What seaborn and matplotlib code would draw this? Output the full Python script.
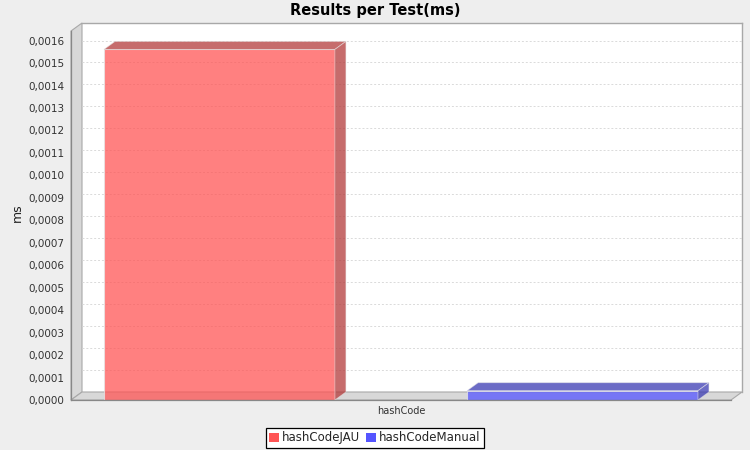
import numpy as np
import pandas as pd
import matplotlib
matplotlib.use("Agg")
import matplotlib.pyplot as plt
import seaborn as sns
from matplotlib.patches import Polygon, Patch
from matplotlib.ticker import FuncFormatter

# ---- data ----
categories = ["hashCode"]
series = ["hashCodeJAU", "hashCodeManual"]
values_ms = [0.001561, 0.0000414]
y_ticks = [round(i * 0.0001, 4) for i in range(17)]
colors = ["#FF5555", "#5555FF"]

df = pd.DataFrame({"test": categories * len(series), "series": series, "ms": values_ms})

sns.set_style("white")
plt.rcParams["font.family"] = ["DejaVu Sans"]

W, H = 750, 450
DX, DY = 11, 8
fig = plt.figure(figsize=(W / 100, H / 100), dpi=100, facecolor="#EEEEEE")


def fr(l, b, w, h):
    return [l / W, b / H, w / W, h / H]


# back wall axes (grid lines)
back = fig.add_axes(fr(71 + DX, 50 + DY, 660, 369), zorder=0)
back.set_facecolor("white")
back.set_xlim(0, 1)
back.set_ylim(0, 0.0016797)
back.set_yticks(y_ticks)
back.set_xticks([])
back.tick_params(axis="y", length=0, labelleft=False)
back.grid(axis="y", color="#DADADA", linestyle=(0, (2, 2)), linewidth=0.7)
for s in ["left", "bottom"]:
    back.spines[s].set_visible(False)
for s in ["top", "right"]:
    back.spines[s].set_color("#A8A8A8")
    back.spines[s].set_linewidth(1.0)

# walls
wall_col = "#D8D8D8"
left_wall = [(71, 50), (71 + DX, 50 + DY), (71 + DX, 419 + DY), (71, 419)]
floor = [(71, 50), (731, 50), (731 + DX, 50 + DY), (71 + DX, 50 + DY)]
for poly in (left_wall, floor):
    pts = [(x / W, y / H) for x, y in poly]
    back.add_patch(Polygon(pts, closed=True, transform=fig.transFigure, clip_on=False,
                           facecolor=wall_col, edgecolor="#A8A8A8", linewidth=0.8, zorder=0))

# front axes (bars + axis)
front = fig.add_axes(fr(71, 50, 660, 369), zorder=2)
front.set_facecolor("none")
sns.barplot(data=df, x="test", y="ms", hue="series", palette=colors, ax=front,
            width=0.8, gap=0.364, alpha=0.75, saturation=1,
            edgecolor=(0.9, 0.9, 0.9, 0.8), linewidth=0.8, legend=False)
front.set_xlim(-0.3636, 0.3636)
front.set_ylim(0, 0.0016429)
front.set_yticks(y_ticks)
front.yaxis.set_major_formatter(FuncFormatter(lambda v, p: f"{v:.4f}".replace(".", ",")))
front.tick_params(axis="y", direction="out", length=2.5, width=0.8, color="#888888",
                  labelsize=7.5, labelcolor="#333333", pad=2.5)
front.tick_params(axis="x", length=0, labelsize=7, labelcolor="#333333", pad=4)
for lab in front.get_xticklabels():
    lab.set_fontweight("medium")
front.set_xlabel("")
front.set_ylabel("")
for s in ["top", "right"]:
    front.spines[s].set_visible(False)
for s in ["left", "bottom"]:
    front.spines[s].set_color("#888888")
    front.spines[s].set_linewidth(0.9)

# 3D faces for each bar
fig.canvas.draw()
inv = fig.transFigure.inverted()
for p in list(front.patches):
    x0 = p.get_x()
    x1 = x0 + p.get_width()
    h = p.get_height()
    (px0, py0), (px1, py1) = front.transData.transform([(x0, 0), (x1, h)])
    fc = p.get_facecolor()
    dark = (fc[0] * 0.7, fc[1] * 0.7, fc[2] * 0.7, fc[3])
    top = [(px0, py1), (px1, py1), (px1 + DX, py1 + DY), (px0 + DX, py1 + DY)]
    side = [(px1, py0), (px1, py1), (px1 + DX, py1 + DY), (px1 + DX, py0 + DY)]
    for poly in (top, side):
        front.add_patch(Polygon(inv.transform(poly), closed=True, transform=fig.transFigure,
                                clip_on=False, facecolor=dark,
                                edgecolor=(0.9, 0.9, 0.9, 0.6), linewidth=0.6, zorder=1))

# texts
fig.text(0.5, 1 - 10 / H, "Results per Test(ms)", ha="center", va="center",
         fontsize=10.5, fontweight="bold", color="black")
fig.text(17 / W, 1 - 213 / H, "ms", ha="center", va="center", rotation=90,
         fontsize=9, color="#222222")

handles = [Patch(facecolor=c, edgecolor="none") for c in colors]
leg = fig.legend(handles, series, loc="lower center", bbox_to_anchor=(0.5, 2 / H), ncol=2,
                 frameon=True, fancybox=False, edgecolor="black", framealpha=1,
                 fontsize=8.5, handlelength=0.8, handleheight=0.8, handletextpad=0.3,
                 columnspacing=0.5, borderpad=0.3, borderaxespad=0)
leg.get_frame().set_linewidth(0.9)

fig.savefig("out.png", dpi=100, facecolor=fig.get_facecolor())
